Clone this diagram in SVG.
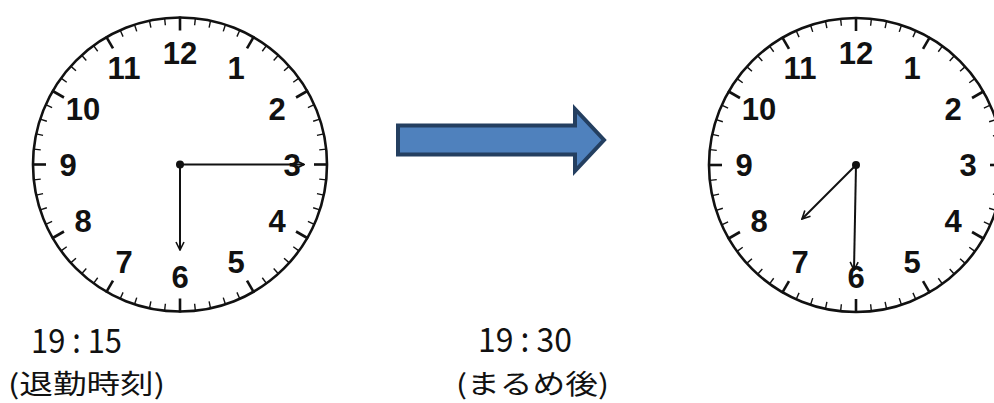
<svg xmlns="http://www.w3.org/2000/svg" xmlns:xlink="http://www.w3.org/1999/xlink" width="994" height="403" viewBox="0 0 994 403">
<style>
.face{fill:#fff;stroke:#111;stroke-width:2.6}
.m{stroke:#111;stroke-width:1.4}
.h{stroke:#111;stroke-width:2.6}
.num{font-family:"Liberation Sans",Arial,sans-serif;font-weight:bold;font-size:31px;fill:#111;text-anchor:middle}
.hand{stroke:#111;stroke-width:2;fill:none;marker-end:url(#tip)}
.dot{fill:#111}
.lbl{font-family:"Noto Sans CJK JP",sans-serif;fill:#111}
.big{fill:#4F81BD;stroke:#243F60;stroke-width:4}
</style>
<defs>
<marker id="tip" viewBox="0 0 10 10" refX="9" refY="5" markerWidth="10" markerHeight="10" markerUnits="userSpaceOnUse" orient="auto">
<path d="M1,1 L9,5 L1,9" fill="none" stroke="#111" stroke-width="1.6"/>
</marker>
<g id="dial">
<circle class="face" cx="0" cy="0" r="147"/>
<line class="h" x1="0" y1="-148" x2="0" y2="-134" transform="rotate(0)"/>
<line class="m" x1="0" y1="-147" x2="0" y2="-140" transform="rotate(6)"/>
<line class="m" x1="0" y1="-147" x2="0" y2="-140" transform="rotate(12)"/>
<line class="m" x1="0" y1="-147" x2="0" y2="-140" transform="rotate(18)"/>
<line class="m" x1="0" y1="-147" x2="0" y2="-140" transform="rotate(24)"/>
<line class="h" x1="0" y1="-148" x2="0" y2="-134" transform="rotate(30)"/>
<line class="m" x1="0" y1="-147" x2="0" y2="-140" transform="rotate(36)"/>
<line class="m" x1="0" y1="-147" x2="0" y2="-140" transform="rotate(42)"/>
<line class="m" x1="0" y1="-147" x2="0" y2="-140" transform="rotate(48)"/>
<line class="m" x1="0" y1="-147" x2="0" y2="-140" transform="rotate(54)"/>
<line class="h" x1="0" y1="-148" x2="0" y2="-134" transform="rotate(60)"/>
<line class="m" x1="0" y1="-147" x2="0" y2="-140" transform="rotate(66)"/>
<line class="m" x1="0" y1="-147" x2="0" y2="-140" transform="rotate(72)"/>
<line class="m" x1="0" y1="-147" x2="0" y2="-140" transform="rotate(78)"/>
<line class="m" x1="0" y1="-147" x2="0" y2="-140" transform="rotate(84)"/>
<line class="h" x1="0" y1="-148" x2="0" y2="-134" transform="rotate(90)"/>
<line class="m" x1="0" y1="-147" x2="0" y2="-140" transform="rotate(96)"/>
<line class="m" x1="0" y1="-147" x2="0" y2="-140" transform="rotate(102)"/>
<line class="m" x1="0" y1="-147" x2="0" y2="-140" transform="rotate(108)"/>
<line class="m" x1="0" y1="-147" x2="0" y2="-140" transform="rotate(114)"/>
<line class="h" x1="0" y1="-148" x2="0" y2="-134" transform="rotate(120)"/>
<line class="m" x1="0" y1="-147" x2="0" y2="-140" transform="rotate(126)"/>
<line class="m" x1="0" y1="-147" x2="0" y2="-140" transform="rotate(132)"/>
<line class="m" x1="0" y1="-147" x2="0" y2="-140" transform="rotate(138)"/>
<line class="m" x1="0" y1="-147" x2="0" y2="-140" transform="rotate(144)"/>
<line class="h" x1="0" y1="-148" x2="0" y2="-134" transform="rotate(150)"/>
<line class="m" x1="0" y1="-147" x2="0" y2="-140" transform="rotate(156)"/>
<line class="m" x1="0" y1="-147" x2="0" y2="-140" transform="rotate(162)"/>
<line class="m" x1="0" y1="-147" x2="0" y2="-140" transform="rotate(168)"/>
<line class="m" x1="0" y1="-147" x2="0" y2="-140" transform="rotate(174)"/>
<line class="h" x1="0" y1="-148" x2="0" y2="-134" transform="rotate(180)"/>
<line class="m" x1="0" y1="-147" x2="0" y2="-140" transform="rotate(186)"/>
<line class="m" x1="0" y1="-147" x2="0" y2="-140" transform="rotate(192)"/>
<line class="m" x1="0" y1="-147" x2="0" y2="-140" transform="rotate(198)"/>
<line class="m" x1="0" y1="-147" x2="0" y2="-140" transform="rotate(204)"/>
<line class="h" x1="0" y1="-148" x2="0" y2="-134" transform="rotate(210)"/>
<line class="m" x1="0" y1="-147" x2="0" y2="-140" transform="rotate(216)"/>
<line class="m" x1="0" y1="-147" x2="0" y2="-140" transform="rotate(222)"/>
<line class="m" x1="0" y1="-147" x2="0" y2="-140" transform="rotate(228)"/>
<line class="m" x1="0" y1="-147" x2="0" y2="-140" transform="rotate(234)"/>
<line class="h" x1="0" y1="-148" x2="0" y2="-134" transform="rotate(240)"/>
<line class="m" x1="0" y1="-147" x2="0" y2="-140" transform="rotate(246)"/>
<line class="m" x1="0" y1="-147" x2="0" y2="-140" transform="rotate(252)"/>
<line class="m" x1="0" y1="-147" x2="0" y2="-140" transform="rotate(258)"/>
<line class="m" x1="0" y1="-147" x2="0" y2="-140" transform="rotate(264)"/>
<line class="h" x1="0" y1="-148" x2="0" y2="-134" transform="rotate(270)"/>
<line class="m" x1="0" y1="-147" x2="0" y2="-140" transform="rotate(276)"/>
<line class="m" x1="0" y1="-147" x2="0" y2="-140" transform="rotate(282)"/>
<line class="m" x1="0" y1="-147" x2="0" y2="-140" transform="rotate(288)"/>
<line class="m" x1="0" y1="-147" x2="0" y2="-140" transform="rotate(294)"/>
<line class="h" x1="0" y1="-148" x2="0" y2="-134" transform="rotate(300)"/>
<line class="m" x1="0" y1="-147" x2="0" y2="-140" transform="rotate(306)"/>
<line class="m" x1="0" y1="-147" x2="0" y2="-140" transform="rotate(312)"/>
<line class="m" x1="0" y1="-147" x2="0" y2="-140" transform="rotate(318)"/>
<line class="m" x1="0" y1="-147" x2="0" y2="-140" transform="rotate(324)"/>
<line class="h" x1="0" y1="-148" x2="0" y2="-134" transform="rotate(330)"/>
<line class="m" x1="0" y1="-147" x2="0" y2="-140" transform="rotate(336)"/>
<line class="m" x1="0" y1="-147" x2="0" y2="-140" transform="rotate(342)"/>
<line class="m" x1="0" y1="-147" x2="0" y2="-140" transform="rotate(348)"/>
<line class="m" x1="0" y1="-147" x2="0" y2="-140" transform="rotate(354)"/>
<text class="num" x="0" y="-101">12</text>
<text class="num" x="56" y="-86">1</text>
<text class="num" x="97" y="-45">2</text>
<text class="num" x="112" y="11">3</text>
<text class="num" x="97" y="67">4</text>
<text class="num" x="56" y="108">5</text>
<text class="num" x="0" y="123">6</text>
<text class="num" x="-56" y="108">7</text>
<text class="num" x="-97" y="67">8</text>
<text class="num" x="-112" y="11">9</text>
<text class="num" x="-97" y="-45">10</text>
<text class="num" x="-56" y="-86">11</text>
</g>
</defs>
<rect width="994" height="403" fill="#fff"/>
<g id="clock-before">
<use xlink:href="#dial" href="#dial" x="180" y="164.5"/>
<line class="hand" x1="180" y1="164.5" x2="304" y2="164.5"/>
<line class="hand" x1="180" y1="164.5" x2="180" y2="250"/>
<circle class="dot" cx="180" cy="164.5" r="4"/>
</g>
<g id="clock-after">
<use xlink:href="#dial" href="#dial" x="856" y="165"/>
<line class="hand" x1="856" y1="165" x2="802" y2="219"/>
<line class="hand" x1="856" y1="165" x2="854" y2="270"/>
<circle class="dot" cx="856" cy="165" r="4"/>
</g>
<g id="label-before">
<text class="lbl" x="31" y="353" font-size="34" textLength="91" lengthAdjust="spacingAndGlyphs">19 : 15</text>
<text class="lbl" x="8" y="394" font-size="27" textLength="157" lengthAdjust="spacingAndGlyphs">(退勤時刻)</text>
</g>
<g id="label-after">
<text class="lbl" x="478" y="352" font-size="34" textLength="94" lengthAdjust="spacingAndGlyphs">19 : 30</text>
<text class="lbl" x="456" y="394" font-size="27" textLength="153" lengthAdjust="spacingAndGlyphs">(まるめ後)</text>
</g>
<g id="connectors">
<path class="big" d="M398,125.5 L575,125.5 L575,109 L604,140 L575,171 L575,154.5 L398,154.5 Z"/>
</g>
</svg>
